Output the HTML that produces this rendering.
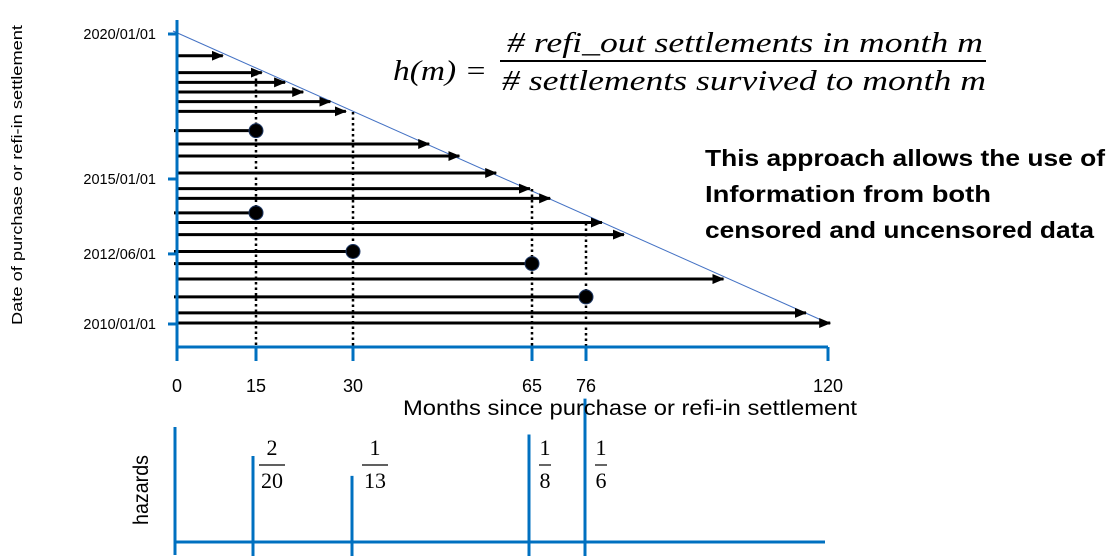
<!DOCTYPE html>
<html><head><meta charset="utf-8"><style>
html,body{margin:0;padding:0;background:#fff;width:1110px;height:559px;overflow:hidden}
svg{display:block}
</style></head><body>
<svg id="c" width="1110" height="559" viewBox="0 0 1110 559" xmlns="http://www.w3.org/2000/svg">
<defs>
<marker id="ah" markerWidth="12" markerHeight="10" refX="11" refY="5" orient="auto" markerUnits="userSpaceOnUse"><path d="M0,0 L12,5 L0,10 Z" fill="#000"/></marker>
</defs>
<g id="main"></g>
<g font-family="'Liberation Sans', sans-serif" fill="#000">
  <text transform="translate(22,175) rotate(-90)" text-anchor="middle" font-size="15" textLength="300" lengthAdjust="spacingAndGlyphs">Date of purchase or refi-in settlement</text>
  <text x="403" y="415" font-size="21" textLength="454" lengthAdjust="spacingAndGlyphs">Months since purchase or refi-in settlement</text>
  <text transform="translate(148,490) rotate(-90)" text-anchor="middle" font-size="21" textLength="70" lengthAdjust="spacingAndGlyphs">hazards</text>
  <g font-weight="bold" font-size="23">
    <text x="705" y="166" textLength="400" lengthAdjust="spacingAndGlyphs">This approach allows the use of</text>
    <text x="705" y="202" textLength="286" lengthAdjust="spacingAndGlyphs">Information from both</text>
    <text x="705" y="238" textLength="389" lengthAdjust="spacingAndGlyphs">censored and uncensored data</text>
  </g>
</g>
<g font-family="'Liberation Serif', serif" font-style="italic" font-size="28" fill="#000">
  <text x="393" y="80" textLength="94" lengthAdjust="spacingAndGlyphs">h(m) =</text>
  <text x="507" y="52" textLength="476" lengthAdjust="spacingAndGlyphs"># refi_out settlements in month m</text>
  <line x1="500" y1="61" x2="986" y2="61" stroke="#000" stroke-width="2"/>
  <text x="502" y="90" textLength="484" lengthAdjust="spacingAndGlyphs"># settlements survived to month m</text>
</g>
</svg>
<script>
// settlement rows: origination (months since 2010/01) and duration (months), event = refi_out observed
const rowOrigin = [111,104,100,96,92,88,80,74.5,69.5,62.5,56,52,46,42,37,30,25,18.6,11.2,4.6,0.4];
const rowDuration = [8.7,15.9,19.5,22.3,26.5,28.9,15,44.9,50.8,58,64.6,68.7,15,78.9,82.9,30,65,101,76,116,120.4];
const rowEvent = [0,0,0,0,0,0,1,0,0,0,0,0,1,0,0,1,1,0,1,0,0];
const xTicks = [0,15,30,65,76,120];
const dateLabels = ['2010/01/01','2012/06/01','2015/01/01','2020/01/01'];
const dateMonths = [0,29,60,120];
const hazardMonths = [15,30,65,76];
const hazardNum = [2,1,1,1];
const hazardDen = [20,13,8,6];

const NS='http://www.w3.org/2000/svg';
const g=document.getElementById('main');
// schematic (non-linear) month axis: piecewise scale through the tick anchors
const xDomain=[0,15,30,65,76,120];
const xRange=[177,256,353,532,586,828];
const hRange=[175,253,352,529,585,825];
function piece(m,R){
  if(m<=xDomain[0])return R[0]+(m-xDomain[0])*(R[1]-R[0])/(xDomain[1]-xDomain[0]);
  for(let i=1;i<xDomain.length;i++){
    if(m<=xDomain[i]||i===xDomain.length-1){
      return R[i-1]+(m-xDomain[i-1])*(R[i]-R[i-1])/(xDomain[i]-xDomain[i-1]);
    }
  }
}
const X0=177,X1=828,Y0=324,Y1=34;
const xs=m=>piece(m,xRange);
const hx=m=>piece(m,hRange);
const ys=o=>Y0-(Y0-Y1)*o/120;
const hy=v=>542-v*860;
function mk(tag,at,parent){const e=document.createElementNS(NS,tag);for(const k in at)e.setAttribute(k,at[k]);(parent||g).appendChild(e);return e;}
const BLUE='#0070C0';

let e=mk('line',{x1:173,y1:31,x2:828,y2:323,stroke:'#4472C4','stroke-width':1});



const evMonths=[15,30,65,76];
const evTops=[73,112,189,223];
evMonths.forEach((m,i)=>{
  const l=mk('line',{x1:xs(m),y1:evTops[i],x2:xs(m),y2:347,stroke:'#000','stroke-width':2.5,'stroke-dasharray':'2.5 3'});
  
  
});

rowOrigin.forEach((o,i)=>{
  const y=ys(o), xe=xs(rowDuration[i]);
  const grp=mk('g',{});
  
  
  if(rowEvent[i]){
    mk('line',{x1:X0-3,y1:y,x2:xe,y2:y,stroke:'#000','stroke-width':3},grp);
    const c=mk('circle',{cx:xe,cy:y,r:7,fill:'#000',stroke:'#1F3864','stroke-width':1},grp);
    
    
  } else {
    mk('line',{x1:X0,y1:y,x2:xe,y2:y,stroke:'#000','stroke-width':3,'marker-end':'url(#ah)'},grp);
  }
});

e=mk('line',{x1:X0,y1:20,x2:X0,y2:361,stroke:BLUE,'stroke-width':3});


e=mk('line',{x1:X0,y1:347,x2:X1,y2:347,stroke:BLUE,'stroke-width':3});


xTicks.forEach(m=>{
  mk('line',{x1:xs(m),y1:347,x2:xs(m),y2:361,stroke:BLUE,'stroke-width':3});
  const t=mk('text',{x:xs(m),y:392,'text-anchor':'middle','font-family':"'Liberation Sans', sans-serif",'font-size':18});
  t.textContent=m;
  
  
});
dateLabels.forEach((d,i)=>{
  const y=ys(dateMonths[i]);
  mk('line',{x1:168,y1:y,x2:X0,y2:y,stroke:BLUE,'stroke-width':3});
  const t=mk('text',{x:156,y:y+5,'text-anchor':'end','font-family':"'Liberation Sans', sans-serif",'font-size':14.5});
  t.textContent=d;
  
  
});

e=mk('line',{x1:175,y1:542,x2:825,y2:542,stroke:BLUE,'stroke-width':3});


e=mk('line',{x1:175,y1:427,x2:175,y2:555,stroke:BLUE,'stroke-width':3});


hazardMonths.forEach((m,i)=>{
  const v=hazardNum[i]/hazardDen[i];
  const x=hx(m);
  const b=mk('line',{x1:x,y1:hy(v),x2:x,y2:556,stroke:BLUE,'stroke-width':3});
  
  
  const fg=mk('g',{'font-family':"'Liberation Serif', serif",'font-size':22,'text-anchor':'middle'});
  
  
  const two=hazardDen[i]>9;
  const cx=x+(two?19:16)+(m===30?4:0);
  const n=mk('text',{x:cx,y:455},fg); n.textContent=hazardNum[i];
  const w=two?26:12;
  mk('line',{x1:cx-w/2,y1:465,x2:cx+w/2,y2:465,stroke:'#000','stroke-width':1.2},fg);
  const d=mk('text',{x:cx,y:488},fg); d.textContent=hazardDen[i];
});
</script>
</body></html>
